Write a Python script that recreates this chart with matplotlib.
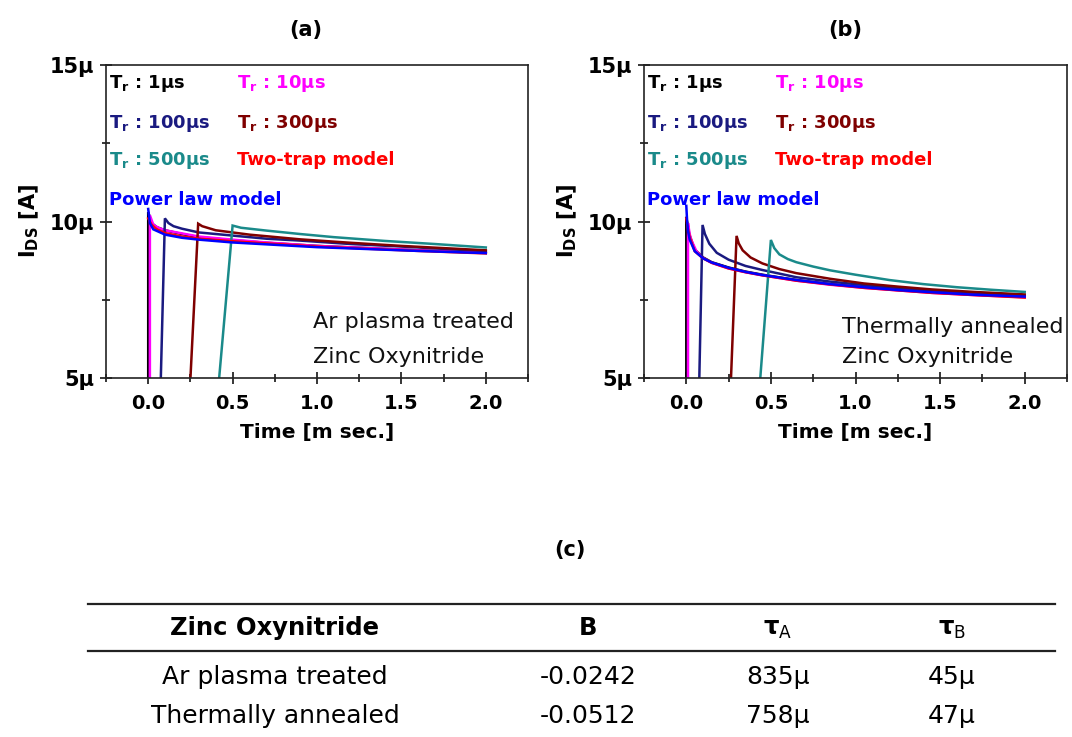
import matplotlib
matplotlib.use("Agg")
import matplotlib.pyplot as plt
from matplotlib.lines import Line2D
from matplotlib.ticker import MultipleLocator

# ---------------- data (time in ms, current in µA) ----------------
# Panel (a): Ar plasma treated
a_x_1us = [0.0, 0.0, 0.02, 0.05, 0.1, 0.2, 0.3, 0.5, 0.7, 1.0, 1.3, 1.6, 2.0]
a_y_1us = [3.0, 10.3, 9.95, 9.82, 9.72, 9.6, 9.5, 9.4, 9.32, 9.22, 9.15, 9.08, 9.0]
a_x_10us = [0.01, 0.01, 0.03, 0.06, 0.1, 0.2, 0.3, 0.5, 0.7, 1.0, 1.3, 1.6, 2.0]
a_y_10us = [3.0, 10.2, 9.9, 9.8, 9.72, 9.62, 9.52, 9.42, 9.33, 9.22, 9.15, 9.08, 9.0]
a_x_100us = [0.07, 0.099, 0.12, 0.15, 0.2, 0.3, 0.5, 0.7, 0.9, 1.2, 1.5, 2.0]
a_y_100us = [4.0, 10.1, 9.95, 9.85, 9.77, 9.65, 9.55, 9.45, 9.39, 9.28, 9.2, 9.05]
a_x_300us = [0.241, 0.296, 0.32, 0.4, 0.6, 0.9, 1.2, 1.5, 2.0]
a_y_300us = [4.0, 9.93, 9.85, 9.72, 9.58, 9.43, 9.32, 9.22, 9.08]
a_x_500us = [0.404, 0.5, 0.55, 0.7, 0.9, 1.1, 1.4, 1.7, 2.0]
a_y_500us = [4.0, 9.87, 9.8, 9.71, 9.6, 9.5, 9.38, 9.28, 9.17]
a_x_twotrap = [0.0, 0.02, 0.05, 0.1, 0.2, 0.3, 0.5, 0.7, 1.0, 1.3, 1.6, 2.0]
a_y_twotrap = [10.1, 9.9, 9.75, 9.63, 9.52, 9.45, 9.37, 9.3, 9.2, 9.13, 9.06, 8.98]
a_x_power = [0.0, 0.01, 0.03, 0.1, 0.2, 0.3, 0.5, 0.7, 1.0, 1.3, 1.6, 2.0]
a_y_power = [10.4, 9.95, 9.75, 9.58, 9.48, 9.42, 9.33, 9.27, 9.18, 9.12, 9.06, 8.99]

# Panel (b): Thermally annealed
b_x_1us = [0.0, 0.0, 0.01, 0.02, 0.05, 0.1, 0.15, 0.25, 0.35, 0.45, 0.65, 0.85, 1.05, 1.25, 1.45, 1.7, 2.0]
b_y_1us = [3.0, 10.15, 9.8, 9.55, 9.1, 8.85, 8.7, 8.53, 8.4, 8.3, 8.13, 8.0, 7.9, 7.82, 7.74, 7.67, 7.6]
b_x_10us = [0.01, 0.01, 0.02, 0.03, 0.06, 0.1, 0.15, 0.25, 0.35, 0.45, 0.65, 0.85, 1.05, 1.25, 1.45, 1.7, 2.0]
b_y_10us = [3.0, 9.95, 9.6, 9.4, 9.05, 8.83, 8.68, 8.5, 8.38, 8.28, 8.11, 7.98, 7.88, 7.8, 7.72, 7.65, 7.58]
b_x_100us = [0.073, 0.096, 0.11, 0.136, 0.18, 0.25, 0.35, 0.45, 0.65, 0.85, 1.05, 1.3, 1.6, 2.0]
b_y_100us = [4.0, 9.89, 9.6, 9.29, 9.0, 8.78, 8.58, 8.45, 8.22, 8.08, 7.97, 7.85, 7.74, 7.62]
b_x_300us = [0.257, 0.297, 0.31, 0.333, 0.38, 0.45, 0.55, 0.65, 0.85, 1.05, 1.25, 1.45, 1.7, 2.0]
b_y_300us = [4.0, 9.54, 9.3, 9.08, 8.85, 8.66, 8.48, 8.35, 8.17, 8.02, 7.92, 7.83, 7.75, 7.67]
b_x_500us = [0.423, 0.5, 0.52, 0.55, 0.6, 0.65, 0.75, 0.85, 1.0, 1.2, 1.4, 1.6, 1.8, 2.0]
b_y_500us = [4.0, 9.41, 9.15, 8.95, 8.8, 8.7, 8.56, 8.44, 8.3, 8.13, 8.0, 7.9, 7.82, 7.75]
b_x_twotrap = [0.0, 0.01, 0.02, 0.05, 0.1, 0.15, 0.25, 0.35, 0.45, 0.65, 0.85, 1.05, 1.25, 1.45, 1.7, 2.0]
b_y_twotrap = [10.1, 9.75, 9.5, 9.05, 8.82, 8.68, 8.5, 8.38, 8.28, 8.11, 7.99, 7.88, 7.8, 7.72, 7.65, 7.57]
b_x_power = [0.0, 0.005, 0.01, 0.02, 0.05, 0.1, 0.15, 0.25, 0.35, 0.45, 0.65, 0.85, 1.05, 1.25, 1.45, 1.7, 2.0]
b_y_power = [10.5, 10.0, 9.7, 9.42, 9.05, 8.82, 8.69, 8.52, 8.39, 8.29, 8.13, 8.0, 7.9, 7.81, 7.74, 7.66, 7.6]

series_labels = [r"T$_{\mathbf{r}}$ : 1μs", r"T$_{\mathbf{r}}$ : 10μs",
                 r"T$_{\mathbf{r}}$ : 100μs", r"T$_{\mathbf{r}}$ : 300μs",
                 r"T$_{\mathbf{r}}$ : 500μs", "Two-trap model", "Power law model"]
series_colors = ["#000000", "#ff00ff", "#1a1a80", "#7f0000", "#1a8a8a", "#ff0000", "#0000ff"]

ytick_vals = [5, 10, 15]
ytick_labels = ["5μ", "10μ", "15μ"]
xtick_vals = [0.0, 0.5, 1.0, 1.5, 2.0]
xtick_labels = ["0.0", "0.5", "1.0", "1.5", "2.0"]

panel_titles = ["(a)", "(b)"]
panel_notes = [["Ar plasma treated", "Zinc Oxynitride"],
               ["Thermally annealed", "Zinc Oxynitride"]]

table_header = ["Zinc Oxynitride", "B", r"τ$_{\mathrm{A}}$", r"τ$_{\mathrm{B}}$"]
table_rows = [["Ar plasma treated", "-0.0242", "835μ", "45μ"],
              ["Thermally annealed", "-0.0512", "758μ", "47μ"]]

# ---------------- figure ----------------
W, H = 1072, 737
fig = plt.figure(figsize=(W / 100, H / 100), dpi=100)
plt.rcParams['mathtext.fontset'] = 'dejavusans'


def fx(px):
    return px / W


def fy(py):
    return 1 - py / H


axA = fig.add_axes([fx(106), fy(378), fx(528) - fx(106), fy(65) - fy(378)])
axB = fig.add_axes([fx(644), fy(378), fx(1067) - fx(644), fy(65) - fy(378)])

data_a = [(a_x_1us, a_y_1us), (a_x_10us, a_y_10us), (a_x_100us, a_y_100us),
          (a_x_300us, a_y_300us), (a_x_500us, a_y_500us),
          (a_x_twotrap, a_y_twotrap), (a_x_power, a_y_power)]
data_b = [(b_x_1us, b_y_1us), (b_x_10us, b_y_10us), (b_x_100us, b_y_100us),
          (b_x_300us, b_y_300us), (b_x_500us, b_y_500us),
          (b_x_twotrap, b_y_twotrap), (b_x_power, b_y_power)]

note_layout = {
    'a': dict(x=0.49, y=(0.16, 0.048)),
    'b': dict(x=0.468, y=(0.144, 0.048)),
}

for ax, data, note, key in [(axA, data_a, panel_notes[0], 'a'),
                            (axB, data_b, panel_notes[1], 'b')]:
    for (xs, ys), c in zip(data, series_colors):
        ax.plot(xs, ys, color=c, lw=1.8, solid_joinstyle='miter')
    ax.set_xlim(-0.25, 2.25)
    ax.set_ylim(5, 15)
    ax.set_xticks(xtick_vals, labels=xtick_labels)
    ax.set_yticks(ytick_vals, labels=ytick_labels)
    ax.xaxis.set_minor_locator(MultipleLocator(0.25))
    ax.yaxis.set_minor_locator(MultipleLocator(2.5))
    ax.tick_params(which='major', direction='inout', length=9, width=1.1)
    ax.tick_params(which='minor', direction='inout', length=6, width=1.1)
    ax.tick_params(axis='x', labelsize=14, pad=7)
    ax.tick_params(axis='y', labelsize=15, pad=4)
    for lab in ax.get_xticklabels() + ax.get_yticklabels():
        lab.set_fontweight('bold')
    for sp in ax.spines.values():
        sp.set_linewidth(1.2)
        sp.set_color('#222222')
    ax.set_xlabel("Time [m sec.]", fontsize=14.5, fontweight='bold', labelpad=7)
    ax.set_ylabel(r"I$_{\mathbf{DS}}$ [A]", fontsize=15, fontweight='bold', labelpad=6)
    # legend-like labels
    col_x = [0.006, 0.31]
    row_y = [0.925, 0.8, 0.679, 0.553]
    positions = [(col_x[0], row_y[0]), (col_x[1], row_y[0]),
                 (col_x[0], row_y[1]), (col_x[1], row_y[1]),
                 (col_x[0], row_y[2]), (col_x[1], row_y[2]),
                 (col_x[0], row_y[3])]
    for (px, py), lab, c in zip(positions, series_labels, series_colors):
        ax.text(px, py, lab, transform=ax.transAxes, color=c, fontsize=13,
                fontweight='bold', ha='left', va='baseline')
    nl = note_layout[key]
    for line, yy in zip(note, nl['y']):
        ax.text(nl['x'], yy, line, transform=ax.transAxes, fontsize=16,
                ha='left', va='baseline', color='#111111', clip_on=False)

fig.text(fx(306), fy(30), panel_titles[0], fontsize=15, fontweight='bold', ha='center', va='center')
fig.text(fx(845), fy(30), panel_titles[1], fontsize=15, fontweight='bold', ha='center', va='center')
fig.text(fx(570), fy(550), "(c)", fontsize=15, fontweight='bold', ha='center', va='center')

# ---------------- table (c) ----------------
fig.add_artist(Line2D([fx(88), fx(1055)], [fy(604), fy(604)], color='#222222', lw=1.6))
fig.add_artist(Line2D([fx(88), fx(1055)], [fy(651), fy(651)], color='#222222', lw=1.6))
col_cx = [275, 588, 778, 952]
tfont = ['DejaVu Sans']
for cx, txt in zip(col_cx, table_header):
    fig.text(fx(cx), fy(635), txt, fontsize=17.5, fontweight='bold', family=tfont,
             ha='center', va='baseline')
for ry, row in zip([684, 723], table_rows):
    for cx, txt in zip(col_cx, row):
        fig.text(fx(cx), fy(ry), txt, fontsize=18, family=tfont, ha='center', va='baseline')

fig.savefig("out.png", dpi=100)
